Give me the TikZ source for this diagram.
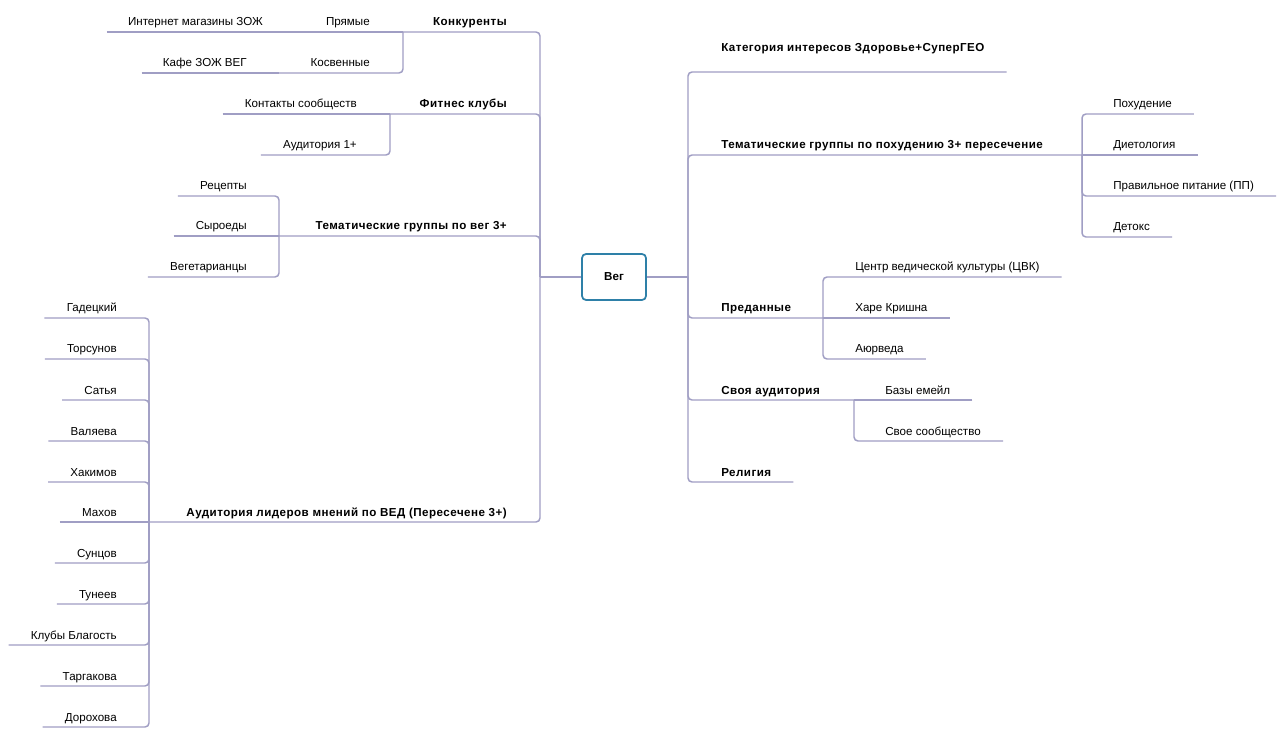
\documentclass[tikz,border=0pt]{standalone}
\usepackage{fontspec}
\setmainfont{Liberation Sans}
\usetikzlibrary{calc}
\definecolor{linec}{RGB}{160,158,196}
\definecolor{boxc}{RGB}{46,128,168}
\tikzset{
  conn/.style={draw=linec, line width=1.1pt, rounded corners=3pt},
  lbl/.style={inner sep=0pt, font=\fontsize{8.7}{10}\selectfont, text=black},
  blbl/.style={inner sep=0pt, font=\fontsize{8.7}{10}\selectfont\bfseries\addfontfeature{LetterSpace=4}, text=black},
  vegbox/.style={draw=boxc, line width=1.3pt, rounded corners=3pt, fill=white,
     minimum width=48pt, minimum height=34.5pt, font=\fontsize{8.7}{10}\selectfont\bfseries}
}
\begin{document}
\begin{tikzpicture}[x=0.75pt,y=-0.75pt]
\useasboundingbox (0,0) rectangle (1280,737);
\fill[white] (0,0) rectangle (1280,737);

% roots
\coordinate (rootL) at (540,277);
\coordinate (rootR) at (688,277);
\node[vegbox] (veg) at (614,277) {Вег};

% ---------- LEFT SIDE ----------
% Конкуренты
\node[blbl, anchor=base east] (L1) at (507,26) {Конкуренты};
\coordinate (L1e) at (403,32);
\node[lbl, anchor=base east] (L1a) at (370,26) {Прямые};
\coordinate (L1ae) at (295,32);
\node[lbl, anchor=base east] (L1a1) at (263,26) {Интернет магазины ЗОЖ};
\coordinate (L1a1e) at ($(L1a1.base west)+(-21,6)$);
\node[lbl, anchor=base east] (L1b) at (370,67) {Косвенные};
\coordinate (L1be) at (279,73);
\node[lbl, anchor=base east] (L1b1) at (247,67) {Кафе ЗОЖ ВЕГ};
\coordinate (L1b1e) at ($(L1b1.base west)+(-21,6)$);

% Фитнес клубы
\node[blbl, anchor=base east] (L2) at (507,108) {Фитнес клубы};
\coordinate (L2e) at (390,114);
\node[lbl, anchor=base east] (L2a) at (357,108) {Контакты сообществ};
\coordinate (L2ae) at ($(L2a.base west)+(-22,6)$);
\node[lbl, anchor=base east] (L2b) at (357,149) {Аудитория 1+};
\coordinate (L2be) at ($(L2b.base west)+(-22,6)$);

% Тематические группы по вег 3+
\node[blbl, anchor=base east] (L3) at (507,230) {Тематические группы по вег 3+};
\coordinate (L3e) at (279,236);
\node[lbl, anchor=base east] (L3a) at (247,190) {Рецепты};
\coordinate (L3ae) at ($(L3a.base west)+(-22,6)$);
\node[lbl, anchor=base east] (L3b) at (247,230) {Сыроеды};
\coordinate (L3be) at ($(L3b.base west)+(-22,6)$);
\node[lbl, anchor=base east] (L3c) at (247,271) {Вегетарианцы};
\coordinate (L3ce) at ($(L3c.base west)+(-22,6)$);

% Аудитория лидеров мнений
\node[blbl, anchor=base east] (L4) at (507,516) {Аудитория лидеров мнений по ВЕД (Пересечене 3+)};
\coordinate (L4end) at (149,522);
\foreach \nm/\yy/\tx in {a/318/Гадецкий, b/359/Торсунов, c/400/Сатья, d/441/Валяева,
   e/482/Хакимов, f/522/Махов, g/563/Сунцов, h/604/Тунеев, i/645/Клубы Благость,
   j/686/Таргакова, k/727/Дорохова}{
  \node[lbl, anchor=base east] (Lch\nm) at (117,\yy-6) {\tx};
  \coordinate (Lch\nm end) at ($(Lch\nm.base west)+(-22,6)$);
}

% ---------- RIGHT SIDE ----------
\node[blbl, anchor=base west] (R1) at (721,52) {Категория интересов Здоровье+СуперГЕО};
\coordinate (R1e) at ($(R1.base east)+(22,20)$);

\node[blbl, anchor=base west] (R2) at (721,149) {Тематические группы по похудению 3+ пересечение};
\coordinate (R2e) at (1082,155);
\node[lbl, anchor=base west] (R2a) at (1113,108) {Похудение};
\coordinate (R2ae) at ($(R2a.base east)+(22,6)$);
\node[lbl, anchor=base west] (R2b) at (1113,149) {Диетология};
\coordinate (R2be) at ($(R2b.base east)+(22,6)$);
\node[lbl, anchor=base west] (R2c) at (1113,190) {Правильное питание (ПП)};
\coordinate (R2ce) at ($(R2c.base east)+(22,6)$);
\node[lbl, anchor=base west] (R2d) at (1113,231) {Детокс};
\coordinate (R2de) at ($(R2d.base east)+(22,6)$);

\node[blbl, anchor=base west] (R3) at (721,312) {Преданные};
\coordinate (R3e) at (823,318);
\node[lbl, anchor=base west] (R3a) at (855,271) {Центр ведической культуры (ЦВК)};
\coordinate (R3ae) at ($(R3a.base east)+(22,6)$);
\node[lbl, anchor=base west] (R3b) at (855,312) {Харе Кришна};
\coordinate (R3be) at ($(R3b.base east)+(22,6)$);
\node[lbl, anchor=base west] (R3c) at (855,353) {Аюрведа};
\coordinate (R3ce) at ($(R3c.base east)+(22,6)$);

\node[blbl, anchor=base west] (R4) at (721,394) {Своя аудитория};
\coordinate (R4e) at (854,400);
\node[lbl, anchor=base west] (R4a) at (885,394) {Базы емейл};
\coordinate (R4ae) at ($(R4a.base east)+(22,6)$);
\node[lbl, anchor=base west] (R4b) at (885,435) {Свое сообщество};
\coordinate (R4be) at ($(R4b.base east)+(22,6)$);

\node[blbl, anchor=base west] (R5) at (721,476) {Религия};
\coordinate (R5e) at ($(R5.base east)+(22,6)$);

% ---------- CONNECTORS ----------
\draw[conn] (rootL) -- (veg.west);
\draw[conn] (veg.east) -- (rootR);

\draw[conn] (L1e) -| (rootL);
\draw[conn] (L2e) -| (rootL);
\draw[conn] (L3e) -| (rootL);
\draw[conn] (L4end) -| (rootL);

\draw[conn] (L1ae) -- (L1e);
\draw[conn] (L1a1e) -- (L1ae);
\draw[conn] (L1be) -| (L1e);
\draw[conn] (L1b1e) -- (L1be);

\draw[conn] (L2ae) -- (L2e);
\draw[conn] (L2be) -| (L2e);

\draw[conn] (L3ae) -| (L3e);
\draw[conn] (L3be) -- (L3e);
\draw[conn] (L3ce) -| (L3e);

\foreach \nm in {a,b,c,d,e,g,h,i,j,k}{
  \draw[conn] (Lch\nm end) -| (L4end);
}
\draw[conn] (Lchfend) -- (L4end);

\draw[conn] (R1e) -| (rootR);
\draw[conn] (R2e) -| (rootR);
\draw[conn] (R3e) -| (rootR);
\draw[conn] (R4e) -| (rootR);
\draw[conn] (R5e) -| (rootR);

\draw[conn] (R2ae) -| (R2e);
\draw[conn] (R2be) -- (R2e);
\draw[conn] (R2ce) -| (R2e);
\draw[conn] (R2de) -| (R2e);

\draw[conn] (R3ae) -| (R3e);
\draw[conn] (R3be) -- (R3e);
\draw[conn] (R3ce) -| (R3e);

\draw[conn] (R4ae) -- (R4e);
\draw[conn] (R4be) -| (R4e);
\end{tikzpicture}
\end{document}
